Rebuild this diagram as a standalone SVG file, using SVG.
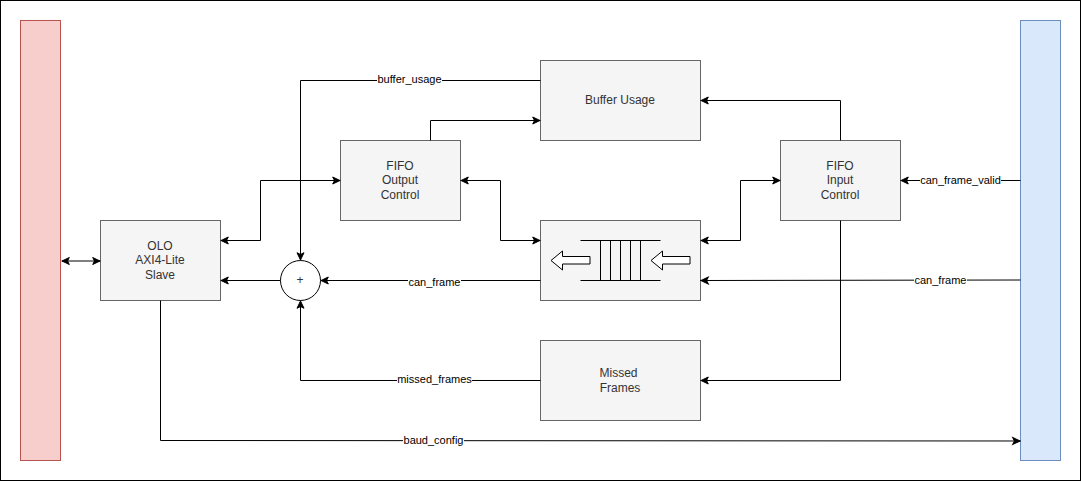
<svg xmlns="http://www.w3.org/2000/svg" width="1082" height="482" viewBox="0 0 1082 482">
<style>
.box{fill:#f5f5f5;stroke:#666;stroke-width:1}
.t{font-family:"Liberation Sans",Arial,sans-serif;font-size:12px;fill:#333;text-anchor:middle}
.l{font-family:"Liberation Sans",Arial,sans-serif;font-size:11px;fill:#000;text-anchor:middle}
.c{fill:none;stroke:#000;stroke-width:1;marker-end:url(#a)}
.cb{fill:none;stroke:#000;stroke-width:1;marker-start:url(#s);marker-end:url(#a)}
.lb{fill:#fff;stroke:none}
.q{fill:none;stroke:#000;stroke-width:1}
.ar{fill:#fff;stroke:#000;stroke-width:1}
</style>
<defs>
<marker id="a" markerUnits="userSpaceOnUse" markerWidth="12" markerHeight="10" refX="9" refY="5" orient="auto" overflow="visible"><path d="M1.2,1.5 L8.5,5 L1.2,8.5 L3,5 Z" fill="#000" stroke="#000" stroke-width="1"/></marker>
<marker id="s" markerUnits="userSpaceOnUse" markerWidth="12" markerHeight="10" refX="1" refY="5" orient="auto" overflow="visible"><path d="M8.8,1.5 L1.5,5 L8.8,8.5 L7,5 Z" fill="#000" stroke="#000" stroke-width="1"/></marker>
</defs>
<rect id="frame" x="0.5" y="0.5" width="1080" height="480" fill="#fff" stroke="#000"/>
<g id="left-bar"><rect x="20.5" y="20.5" width="40" height="440" fill="#f8cecc" stroke="#b85450"/></g>
<g id="right-bar"><rect x="1020.5" y="20.5" width="40" height="440" fill="#dae8fc" stroke="#6c8ebf"/></g>
<g id="axi-slave"><rect class="box" x="100.5" y="220.5" width="120" height="80"/>
<text class="t" x="160" y="250">OLO</text><text class="t" x="160" y="264">AXI4-Lite</text><text class="t" x="160" y="279">Slave</text></g>
<g id="sum"><circle cx="300.5" cy="280.5" r="20" fill="#fff" stroke="#000"/><text class="t" x="300" y="284">+</text></g>
<g id="fifo-output"><rect class="box" x="340.5" y="140.5" width="120" height="80"/>
<text class="t" x="400" y="170">FIFO</text><text class="t" x="400" y="184">Output</text><text class="t" x="400" y="199">Control</text></g>
<g id="buffer-usage"><rect class="box" x="540.5" y="60.5" width="160" height="80"/>
<text class="t" x="620" y="104">Buffer Usage</text></g>
<g id="fifo-input"><rect class="box" x="780.5" y="140.5" width="120" height="80"/>
<text class="t" x="840" y="170">FIFO</text><text class="t" x="840" y="184">Input</text><text class="t" x="840" y="199">Control</text></g>
<g id="fifo"><rect class="box" x="540.5" y="220.5" width="160" height="80"/>
<path class="q" d="M580.5,240.5 H660.5 M580.5,280.5 H660.5 M600.5,240.5 V280.5 M610.5,240.5 V280.5 M620.5,240.5 V280.5 M630.5,240.5 V280.5 M640.5,240.5 V280.5"/>
<path class="ar" d="M551,260.5 L562.5,251 V256.5 H590 V264 H562.5 V270 Z"/>
<path class="ar" d="M651,260.5 L662.5,251 V256.5 H690 V264 H662.5 V270 Z"/></g>
<g id="missed-frames"><rect class="box" x="540.5" y="340.5" width="160" height="80"/>
<text class="t" x="618.5" y="377">Missed</text><text class="t" x="620" y="392">Frames</text></g>
<g id="connectors">
<path class="cb" d="M61.5,261 L100.5,261"/>
<path class="cb" d="M220.5,240.5 L260.5,240.5 L260.5,180.5 L340.5,180.5"/>
<path class="c" d="M540.5,80.5 L300.5,80.5 L300.5,260.5"/>
<path class="c" d="M430.5,140.5 L430.5,120.5 L540.5,120.5"/>
<path class="cb" d="M460.5,180.5 L500.5,180.5 L500.5,240.5 L540.5,240.5"/>
<path class="cb" d="M700.5,240.5 L740.5,240.5 L740.5,180.5 L780.5,180.5"/>
<path class="c" d="M840.5,140.5 L840.5,100.5 L700.5,100.5"/>
<path class="c" d="M840.5,220.5 L840.5,380.5 L700.5,380.5"/>
<path class="c" d="M1020.5,180.5 L900.5,180.5"/>
<path class="c" d="M1020.5,280 L700.5,280.5"/>
<path class="c" d="M540.5,280.5 L320.5,280.5"/>
<path class="c" d="M280.5,280.5 L220.5,280.5"/>
<path class="c" d="M540.5,380.5 L300.5,380.5 L300.5,300.5"/>
<path class="c" d="M160.5,300.5 L160.5,440.5 L1020.5,441"/>
</g>
<g id="connector-labels">
<rect class="lb" x="377" y="74" width="65" height="12"/><text class="l" x="409.5" y="83">buffer_usage</text>
<rect class="lb" x="408" y="276" width="53" height="12"/><text class="l" x="434.5" y="286">can_frame</text>
<rect class="lb" x="397" y="374" width="75" height="12"/><text class="l" x="434.5" y="383">missed_frames</text>
<rect class="lb" x="403" y="435" width="61" height="12"/><text class="l" x="433.5" y="444">baud_config</text>
<rect class="lb" x="920" y="174" width="81" height="12"/><text class="l" x="960.5" y="184">can_frame_valid</text>
<rect class="lb" x="914" y="274" width="53" height="12"/><text class="l" x="940.5" y="284">can_frame</text>
</g>
</svg>
